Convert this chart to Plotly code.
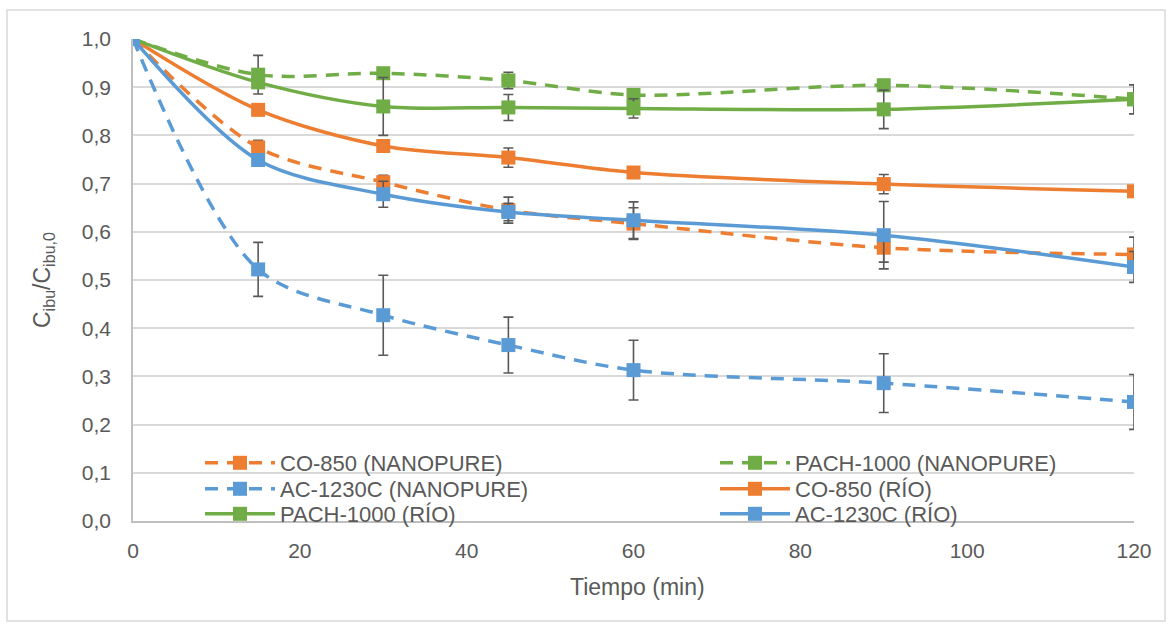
import plotly.graph_objects as go

# Sampling times (min)
tiempo = [0, 15, 30, 45, 60, 90, 120]

# Normalised ibuprofen concentration C/C0 and standard deviations
co850_nanopure = [1.0, 0.775, 0.703, 0.645, 0.617, 0.567, 0.553]
co850_nanopure_err = [None, 0.015, 0.014, 0.027, 0.033, 0.030, 0.036]

pach1000_nanopure = [1.0, 0.926, 0.929, 0.914, 0.884, 0.904, 0.875]
pach1000_nanopure_err = [None, 0.040, None, 0.017, 0.006, 0.012, 0.030]

ac1230c_nanopure = [1.0, 0.522, 0.427, 0.365, 0.313, 0.286, 0.247]
ac1230c_nanopure_err = [None, 0.056, 0.083, 0.058, 0.062, 0.061, 0.057]

co850_rio = [1.0, 0.853, 0.778, 0.754, 0.723, 0.699, 0.684]
co850_rio_err = [None, None, None, 0.020, None, 0.020, None]

pach1000_rio = [1.0, 0.910, 0.860, 0.858, 0.856, 0.854, 0.875]
pach1000_rio_err = [None, None, 0.060, 0.027, 0.020, 0.040, 0.030]

ac1230c_rio = [1.0, 0.749, 0.678, 0.641, 0.624, 0.593, 0.527]
ac1230c_rio_err = [None, None, 0.027, 0.018, 0.038, 0.070, 0.032]

x_ticks = [0, 20, 40, 60, 80, 100, 120]
y_ticks = [0.0, 0.1, 0.2, 0.3, 0.4, 0.5, 0.6, 0.7, 0.8, 0.9, 1.0]

ORANGE = "#ED7D31"
BLUE = "#5B9BD5"
GREEN = "#70AD47"
ERR = "#595959"
TXT = "#595959"
FONT = "Liberation Sans, Arial, sans-serif"

# (label, values, errors, colour, dashed?)
series = [
    ("CO-850 (NANOPURE)", co850_nanopure, co850_nanopure_err, ORANGE, True),
    ("PACH-1000 (NANOPURE)", pach1000_nanopure, pach1000_nanopure_err, GREEN, True),
    ("AC-1230C (NANOPURE)", ac1230c_nanopure, ac1230c_nanopure_err, BLUE, True),
    ("CO-850 (RÍO)", co850_rio, co850_rio_err, ORANGE, False),
    ("PACH-1000 (RÍO)", pach1000_rio, pach1000_rio_err, GREEN, False),
    ("AC-1230C (RÍO)", ac1230c_rio, ac1230c_rio_err, BLUE, False),
]

W, H = 1172, 628
L, R, T, B = 133, 38, 39, 107
pw, ph = W - L - R, H - T - B

def px(xp):
    return (xp - L) / pw

def py(yp):
    return (H - B - yp) / ph

# Legend laid out as a 2-column grid, filled row by row (pixel positions of each entry)
legend_cols = [200, 715]
legend_rows = [442, 468, 493]

fig = go.Figure()
legend_layout = {}
for i, (name, vals, errs, color, dashed) in enumerate(series):
    key = "legend" if i == 0 else f"legend{i + 1}"
    fig.add_trace(go.Scatter(
        x=tiempo, y=vals, name=name, mode="lines+markers", legend=key,
        line=dict(color=color, width=3.5, shape="spline", smoothing=0.9,
                  dash="13px,9px" if dashed else "solid"),
        marker=dict(symbol="square", size=14, color=color),
        error_y=dict(type="data", array=errs, visible=True,
                     color=ERR, thickness=1.6, width=5),
    ))
    legend_layout[key] = dict(
        x=px(legend_cols[i % 2]), y=py(legend_rows[i // 2]),
        xanchor="left", yanchor="top", orientation="v",
        bgcolor="rgba(0,0,0,0)", font=dict(size=22, color=TXT, family=FONT),
        itemwidth=70,
    )

fig.update_layout(
    width=W, height=H,
    margin=dict(l=L, r=R, t=T, b=B, autoexpand=False),
    paper_bgcolor="white", plot_bgcolor="white",
    separators=",.",
    font=dict(family=FONT, color=TXT, size=21),
    showlegend=True,
    **legend_layout,
    xaxis=dict(
        range=[0, 120], tickvals=x_ticks, showgrid=False, zeroline=False,
        showline=True, linecolor="#BFBFBF", linewidth=1.5,
        ticks="", tickfont=dict(size=21, color=TXT), ticklabelstandoff=10,
    ),
    yaxis=dict(
        range=[0, 1.0], tickvals=y_ticks, tickformat=".1f",
        showgrid=True, gridcolor="#D9D9D9", gridwidth=1.5, zeroline=False,
        showline=True, linecolor="#BFBFBF", linewidth=1.5,
        ticks="", tickfont=dict(size=21, color=TXT), ticklabelstandoff=16,
    ),
    annotations=[
        dict(text="Tiempo (min)", xref="paper", yref="paper",
             x=px(637), y=py(587), xanchor="center", yanchor="middle",
             showarrow=False, font=dict(size=23, color=TXT, family=FONT)),
        dict(text="C<sub>ibu</sub>/C<sub>ibu,0</sub>", xref="paper", yref="paper",
             x=px(43), y=py(280), xanchor="center", yanchor="middle",
             showarrow=False, textangle=-90,
             font=dict(size=23, color=TXT, family=FONT)),
    ],
    shapes=[
        dict(type="rect", xref="paper", yref="paper",
             x0=px(7), x1=px(1165), y0=py(621), y1=py(10),
             line=dict(color="#D9D9D9", width=1.5), layer="below"),
    ],
)

fig.write_html("out.html")
